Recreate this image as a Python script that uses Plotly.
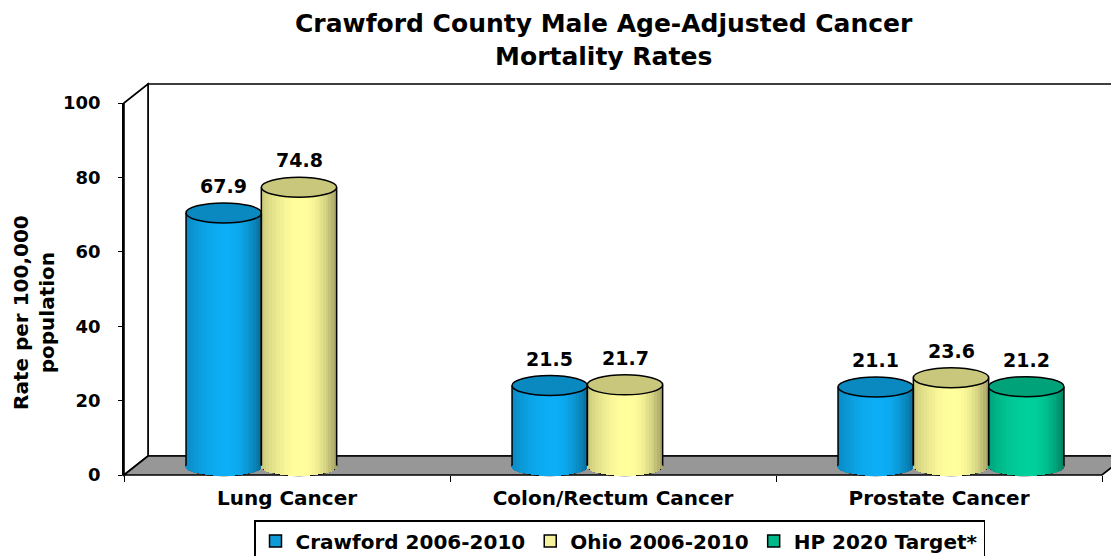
import math
import plotly.graph_objects as go

# ---------------- data ----------------
categories = ["Lung Cancer", "Colon/Rectum Cancer", "Prostate Cancer"]
series_names = ["Crawford 2006-2010", "Ohio 2006-2010", "HP 2020 Target*"]
crawford = [67.9, 21.5, 21.1]
ohio = [74.8, 21.7, 23.6]
hp2020 = [None, None, 21.2]
y_ticks = [0, 20, 40, 60, 80, 100]

# ---------------- style ----------------
OFF = 8                       # page body margin of the browser
W, H = 1119 - OFF, 556 - OFF  # figure size so it fills the window exactly
FONT = "DejaVu Sans, Liberation Sans, Arial, sans-serif"
base_rgb = [(12, 166, 234), (245, 243, 150), (0, 198, 148)]
legend_cols = ["#0E9BD6", "#F4F29A", "#00B98A"]

# front plane (window-pixel geometry of the pseudo-3D frame)
FX0, FX1 = 124, 1102
FY0, FY1 = 475, 103          # y pixel of value 0 and 100
DX, DY = 24, 19              # depth offset of the back wall
YMIN2 = -5
PPU = (FY0 - FY1) / 100.0    # pixels per unit


def px(x):
    return (x - OFF) / W


def py(y):
    return 1 - (y - OFF) / H


series = [crawford, ohio, hp2020]
nser = len(series)
bar_w = 0.231
r_units = 10.0 / PPU          # vertical radius of cylinder ellipse in data units
NSTRIPE = 28


def shade(rgb, f):
    return "rgb(%d,%d,%d)" % tuple(max(0, min(255, int(round(c * f)))) for c in rgb)


def intensity(t):
    d = t - 0.1
    return 1.05 - (0.19 if d < 0 else 0.49) * d * d


fig = go.Figure()
shapes = []
annotations = []

# frame: back wall, left wall, floor
bx0, by0 = FX0 + DX, FY1 - DY
bx1, by1 = FX1 + DX, FY0 - DY
shapes.append(dict(type="rect", xref="paper", yref="paper", layer="below",
                   x0=px(bx0), x1=px(bx1), y0=py(by1), y1=py(by0),
                   fillcolor="white", line=dict(color="black", width=1.6)))
shapes.append(dict(type="path", xref="paper", yref="paper", layer="below",
                   path="M %f %f L %f %f L %f %f L %f %f Z" % (
                       px(FX0), py(FY1), px(bx0), py(by0), px(bx0), py(by1), px(FX0), py(FY0)),
                   fillcolor="white", line=dict(color="black", width=1.6)))
shapes.append(dict(type="path", xref="paper", yref="paper", layer="below",
                   path="M %f %f L %f %f L %f %f L %f %f Z" % (
                       px(FX0), py(FY0), px(bx0), py(by1), px(bx1), py(by1), px(FX1), py(FY0)),
                   fillcolor="#979797", line=dict(color="black", width=1.6)))

# cylinders
for s, vals in enumerate(series):
    xs, bases, ys, widths, cols = [], [], [], [], []
    off = (s - (nser - 1) / 2.0) * bar_w
    for c, v in enumerate(vals):
        if v is None:
            continue
        xc = c + off
        for k in range(NSTRIPE):
            t = -1 + (k + 0.5) * 2.0 / NSTRIPE
            b = -r_units * math.sqrt(max(0.0, 1 - t * t))
            xs.append(xc + t * bar_w / 2)
            bases.append(b)
            ys.append(v - b)
            widths.append(bar_w / NSTRIPE * 1.2)
            cols.append(shade(base_rgb[s], intensity(t)))
        x0, x1 = xc - bar_w / 2, xc + bar_w / 2
        # bottom ellipse (outline of curved base)
        shapes.append(dict(type="circle", xref="x2", yref="y2", layer="below",
                           x0=x0, x1=x1, y0=-r_units, y1=r_units,
                           fillcolor=shade(base_rgb[s], 0.85),
                           line=dict(color="black", width=1.5)))
        # sides
        for xe in (x0, x1):
            shapes.append(dict(type="line", xref="x2", yref="y2", layer="above",
                               x0=xe, x1=xe, y0=0, y1=v,
                               line=dict(color="black", width=1.5)))
        # top face
        shapes.append(dict(type="circle", xref="x2", yref="y2", layer="above",
                           x0=x0, x1=x1, y0=v - r_units, y1=v + r_units,
                           fillcolor=shade(base_rgb[s], 0.82),
                           line=dict(color="black", width=1.5)))
        annotations.append(dict(x=xc, y=v, xref="x2", yref="y2", yshift=27,
                                text="<b>%.1f</b>" % v, showarrow=False,
                                font=dict(family=FONT, size=19, color="black")))
    fig.add_trace(go.Bar(x=xs, y=ys, base=bases, width=widths,
                         marker=dict(color=cols, line=dict(width=0)),
                         xaxis="x2", yaxis="y2", showlegend=False,
                         hoverinfo="skip"))

# legend entries
for s, name in enumerate(series_names):
    fig.add_trace(go.Scatter(x=[categories[0]], y=[None], mode="markers", name="<b>%s</b>" % name,
                             marker=dict(symbol="square", size=12, color=legend_cols[s],
                                         line=dict(color="black", width=1.5))))

# titles
annotations.append(dict(x=px(604), y=py(40), xref="paper", yref="paper",
                        text="<b>Crawford County Male Age-Adjusted Cancer<br>Mortality Rates</b>",
                        showarrow=False, xanchor="center", yanchor="middle",
                        font=dict(family=FONT, size=25, color="black")))
annotations.append(dict(x=px(34), y=py(313), xref="paper", yref="paper",
                        text="<b>Rate per 100,000<br>population</b>", textangle=-90,
                        showarrow=False, xanchor="center", yanchor="middle",
                        font=dict(family=FONT, size=20, color="black")))

fig.update_layout(
    width=W, height=H,
    margin=dict(l=0, r=0, t=0, b=0, autoexpand=False),
    paper_bgcolor="white", plot_bgcolor="rgba(0,0,0,0)",
    barmode="overlay", bargap=0,
    showlegend=True,
    legend=dict(orientation="h", x=px(254), y=py(520), xanchor="left", yanchor="top",
                bordercolor="black", borderwidth=1.5, bgcolor="white",
                font=dict(family=FONT, size=20, color="black")),
    xaxis=dict(domain=[px(FX0), px(FX1)], type="category", categoryorder="array",
               categoryarray=categories, range=[-0.5, 2.5], tickson="boundaries",
               ticks="outside", ticklen=6, tickcolor="black", showline=False,
               showgrid=False, zeroline=False, anchor="y", automargin=False,
               ticklabelstandoff=9,
               tickvals=categories, ticktext=["<b>%s</b>" % c for c in categories],
               tickfont=dict(family=FONT, size=20, color="black")),
    yaxis=dict(domain=[py(FY0), py(FY1)], range=[0, 100], tickvals=y_ticks,
               ticktext=["<b>%d</b>" % v for v in y_ticks],
               ticks="outside", ticklen=4, tickcolor="black", showline=True,
               linecolor="black", linewidth=1.6, showgrid=False, zeroline=False,
               anchor="x", automargin=False, ticklabelstandoff=14,
               tickfont=dict(family=FONT, size=18, color="black")),
    xaxis2=dict(domain=[px(FX0 + DX / 2), px(FX1 + DX / 2)], range=[-0.5, 2.5],
                visible=False, anchor="y2", automargin=False),
    yaxis2=dict(domain=[py(FY0 - DY / 2 - YMIN2 * PPU), py(FY1 - DY / 2)],
                range=[YMIN2, 100], visible=False, anchor="x2", automargin=False),
    shapes=shapes,
    annotations=annotations,
)

fig.write_html("out.html")
